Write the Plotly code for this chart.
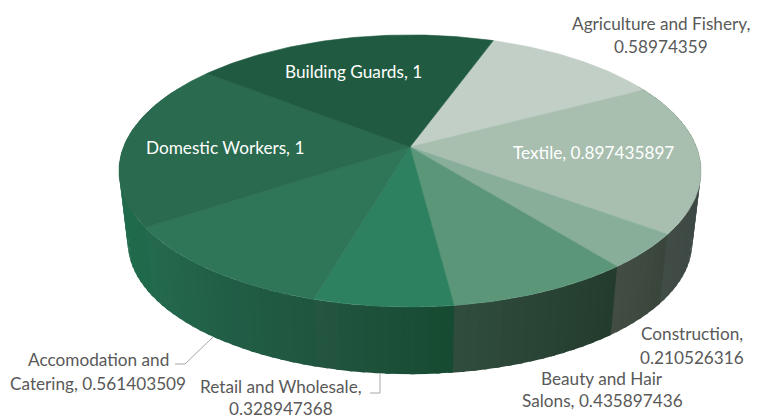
import math
import plotly.graph_objects as go

# --- data (slice order runs clockwise from the first-slice angle) ---
categories = ["Agriculture and Fishery", "Textile", "Construction", "Beauty and Hair Salons",
              "Retail and Wholesale", "Accomodation and Catering", "Domestic Workers", "Building Guards"]
values = [0.58974359, 0.897435897, 0.210526316, 0.435897436,
          0.328947368, 0.561403509, 1, 1]

# --- style ---
top_colors = ["#C2CFC7", "#A8BFAF", "#88AE9A", "#5C9679", "#2E8160", "#2F7558", "#2A6A4E", "#205B41"]
wall_colors = [("#3F4A4A", "#3F4A4A"), ("#333F3D", "#414C47"), ("#3A463C", "#424C42"),
               ("#233C2D", "#2F4C3C"), ("#164B32", "#235540"), ("#1F5640", "#246A4F"),
               ("#20694B", "#236E50"), ("#236E50", "#236E50")]

START = 19.8
CX, CY = 410, 147
R, S, K = 286.5, 131.8, 0.176
BOTTOM_CY, BOTTOM_SCALE = 219, 0.97
OVERLAP = 0.8


def project(theta, cy=CY, scale=1.0):
    u, v = math.sin(math.radians(theta)), math.cos(math.radians(theta))
    w = 1 + K * v
    return CX + scale * R * u / w, cy - scale * S * v / w


total = sum(values)
edges = [START]
for val in values:
    edges.append(edges[-1] + val / total * 360)


def lerp_color(a, b, t):
    ca = [int(a[i:i + 2], 16) for i in (1, 3, 5)]
    cb = [int(b[i:i + 2], 16) for i in (1, 3, 5)]
    return "#%02X%02X%02X" % tuple(round(x + (y - x) * t) for x, y in zip(ca, cb))


fig = go.Figure()


def poly(xs, ys, color, width=0.6):
    fig.add_trace(go.Scatter(x=xs, y=ys, mode="lines", fill="toself", fillcolor=color,
                             line=dict(color=color, width=width), hoverinfo="skip", showlegend=False))


# side wall
for i in range(len(values)):
    a0, a1 = edges[i], edges[i + 1]
    n = max(2, int((a1 - a0) / 2))
    for j in range(n):
        t0 = a0 + (a1 - a0) * j / n
        t1 = a0 + (a1 - a0) * (j + 1) / n + OVERLAP
        mid = (t0 + t1) / 2 % 360
        if not 60 < mid < 300:
            continue
        p = [project(t0), project(t1), project(t1, BOTTOM_CY, BOTTOM_SCALE), project(t0, BOTTOM_CY, BOTTOM_SCALE)]
        c = lerp_color(wall_colors[i][0], wall_colors[i][1], j / (n - 1))
        poly([q[0] for q in p] + [p[0][0]], [q[1] for q in p] + [p[0][1]], c, width=0)

# top faces
for i in range(len(values)):
    a0, a1 = edges[i], edges[i + 1]
    n = max(8, int(a1 - a0))
    pts = [project(a0 + (a1 - a0) * j / n) for j in range(n + 1)]
    xs = [CX] + [q[0] for q in pts] + [CX]
    ys = [CY] + [q[1] for q in pts] + [CY]
    poly(xs, ys, top_colors[i])

WHITE, GREY = "#FFFFFF", "#595959"
label_lines = [
    ("Building Guards, 1", 353, 71, WHITE),
    ("Domestic Workers, 1", 224.5, 147, WHITE),
    ("Textile, 0.897435897", 593, 152, WHITE),
    ("Agriculture and Fishery,", 661, 23, GREY),
    ("0.58974359", 661, 46, GREY),
    ("Construction,", 692, 333, GREY),
    ("0.210526316", 692, 357, GREY),
    ("Beauty and Hair", 602, 378, GREY),
    ("Salons, 0.435897436", 602.5, 400, GREY),
    ("Accomodation and", 98, 359, GREY),
    ("Catering, 0.561403509", 98, 383, GREY),
    ("Retail and Wholesale,", 281, 386, GREY),
    ("0.328947368", 281, 408.5, GREY),
]
annotations = [dict(text=t, x=x, y=y, xref="x", yref="y", showarrow=False, xanchor="center", yanchor="middle",
                    font=dict(family="Lato, Open Sans, sans-serif", size=17.2, color=c))
               for t, x, y, c in label_lines]

leader_style = dict(type="path", xref="x", yref="y", line=dict(color="#A6A6A6", width=1), layer="above")
shapes = [dict(path="M213,337 L185,364 L175,364", **leader_style),
          dict(path="M380,373 L380,393 L370,393", **leader_style)]

fig.update_layout(width=762, height=420, margin=dict(l=0, r=0, t=0, b=0), autosize=False,
                  paper_bgcolor="white", plot_bgcolor="white",
                  xaxis=dict(range=[0, 762], visible=False, fixedrange=True),
                  yaxis=dict(range=[420, 0], visible=False, fixedrange=True),
                  annotations=annotations, shapes=shapes, showlegend=False)
fig.write_html("out.html", config=dict(displayModeBar=False),
               post_script="document.body.style.margin='0';document.documentElement.style.overflow='hidden';")
